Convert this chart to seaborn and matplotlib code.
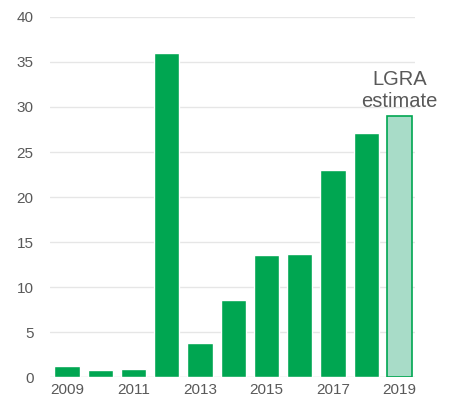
import pandas as pd
import matplotlib
matplotlib.use("Agg")
import matplotlib.pyplot as plt
import seaborn as sns

sns.set_style("white")
plt.rcParams["font.family"] = ["Liberation Sans", "DejaVu Sans"]

years = ["2009", "2010", "2011", "2012", "2013", "2014", "2015", "2016", "2017", "2018", "2019"]
values = [1.2, 0.8, 0.9, 36.0, 3.8, 8.6, 13.6, 13.7, 23.0, 27.1, 29.0]
kind = ["actual"] * 10 + ["estimate"]
shown_ticks = ["2009", "2011", "2013", "2015", "2017", "2019"]

GREEN = "#00A651"
LIGHT = "#A8DCC8"
GREY = "#595959"

df = pd.DataFrame({"year": years, "value": values, "kind": kind})

fig = plt.figure(figsize=(4.51, 4.03), dpi=100)
ax = fig.add_axes([0.111, 0.064, 0.81, 0.894])

sns.barplot(data=df, x="year", y="value", hue="kind",
            palette={"actual": GREEN, "estimate": LIGHT},
            dodge=False, legend=False, width=0.76, saturation=1, ax=ax)

# estimate bar gets a green outline
for p, k in zip(ax.patches, df["kind"]):
    if k == "estimate":
        p.set_edgecolor(GREEN)
        p.set_linewidth(1.2)

ax.set_ylim(0, 40)
ax.set_xlim(-0.51, 10.48)
ax.set_yticks(range(0, 41, 5))
ax.yaxis.grid(True, color="#e6e6e6", linewidth=1)
ax.set_axisbelow(True)
ax.set_xticks([years.index(t) for t in shown_ticks])
ax.set_xticklabels(shown_ticks)
ax.tick_params(axis="both", length=0, labelsize=11, colors=GREY)
ax.tick_params(axis="y", pad=12)
ax.tick_params(axis="x", pad=4)
ax.set_xlabel("")
ax.set_ylabel("")
sns.despine(ax=ax, left=True, bottom=True)
ax.axhline(0, color="#e6e6e6", linewidth=1, zorder=0)

ax.text(10, 29.6, "LGRA\nestimate", ha="center", va="bottom", fontsize=14.5,
        color=GREY, linespacing=1.15)

fig.savefig("out.png", dpi=100)
